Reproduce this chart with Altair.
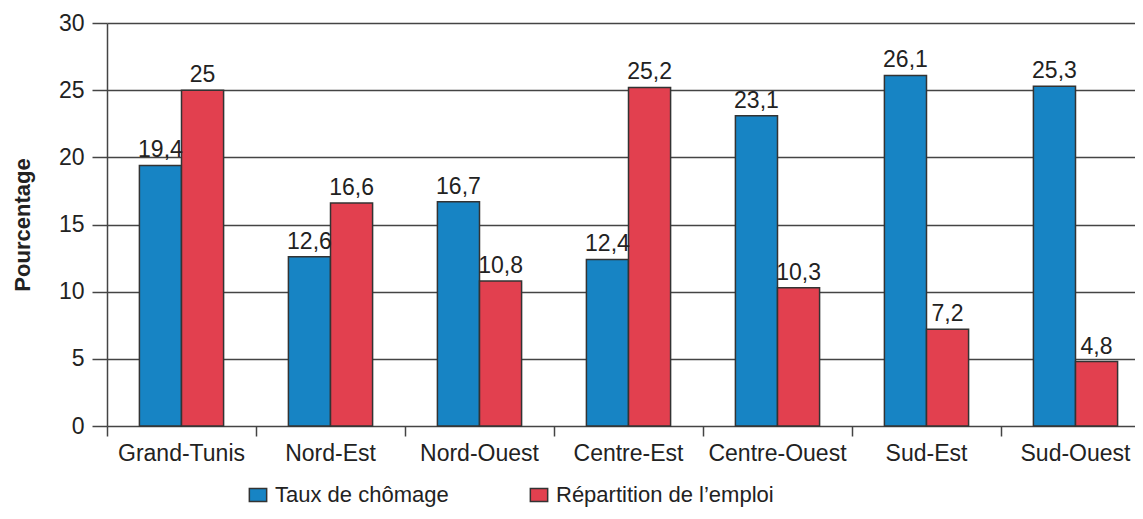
import altair as alt
import pandas as pd

regions = ["Grand-Tunis", "Nord-Est", "Nord-Ouest", "Centre-Est", "Centre-Ouest", "Sud-Est", "Sud-Ouest"]
chomage = [19.4, 12.6, 16.7, 12.4, 23.1, 26.1, 25.3]
emploi = [25, 16.6, 10.8, 25.2, 10.3, 7.2, 4.8]
series = ["Taux de chômage", "Répartition de l’emploi"]
colors = ["#1784c4", "#e2404f"]

rows = []
for i, r in enumerate(regions):
    rows.append({"region": r, "serie": series[0], "valeur": chomage[i]})
    rows.append({"region": r, "serie": series[1], "valeur": emploi[i]})
df = pd.DataFrame(rows)

FONT = "Liberation Sans"
FS = 23

x = alt.X("region:N", sort=regions, title=None,
          scale=alt.Scale(paddingInner=0, paddingOuter=0, range=[0, 1043]),
          axis=alt.Axis(labelAngle=0, bandPosition=0, tickSize=10, labelPadding=6,
                        labelFontSize=FS, labelColor="#222", labelFont=FONT, domain=False,
                        tickColor="#444", tickWidth=1.5))
xo = alt.XOffset("serie:N", sort=series, scale=alt.Scale(paddingInner=0, paddingOuter=0.77))
y = alt.Y("valeur:Q", title="Pourcentage",
          scale=alt.Scale(domain=[0, 30]),
          axis=alt.Axis(values=[0, 5, 10, 15, 20, 25, 30], tickSize=15, labelPadding=8,
                        labelFontSize=FS, labelColor="#222", labelFont=FONT,
                        titleFontSize=22, titleFont=FONT, titleFontWeight="bold", titleColor="#222",
                        titlePadding=24, domainColor="#444", tickColor="#444",
                        gridColor="#444", gridWidth=1.5, domainWidth=1.5, tickWidth=1.5))

bars = alt.Chart(df).mark_bar(stroke="#333", strokeWidth=1.5).encode(
    x=x, xOffset=xo, y=y,
    color=alt.Color("serie:N", sort=series,
                    scale=alt.Scale(domain=series, range=colors),
                    legend=alt.Legend(title=None, orient="none", direction="horizontal",
                                      legendX=140, legendY=461,
                                      symbolType="M-1,-0.75H1V0.75H-1Z", symbolSize=300,
                                      symbolStrokeColor="#333", symbolStrokeWidth=1.5,
                                      labelFontSize=22, labelFont=FONT, labelColor="#222",
                                      columnPadding=78, labelOffset=6, labelLimit=400))
)

labels = alt.Chart(df).transform_calculate(
    lab="replace(toString(datum.valeur), '.', ',')"
).mark_text(baseline="bottom", dy=-3, fontSize=FS, font=FONT, color="#222").encode(
    x=alt.X("region:N", sort=regions), xOffset=xo, y="valeur:Q", text="lab:N"
)

chart = (bars + labels).properties(
    width=1028, height=403,
    autosize=alt.AutoSizeParams(type="none"),
    padding={"left": 99, "top": 15, "right": 0, "bottom": 85},
).configure_view(stroke=None)

chart.save("out.html", embed_options={"renderer": "svg", "actions": False})
